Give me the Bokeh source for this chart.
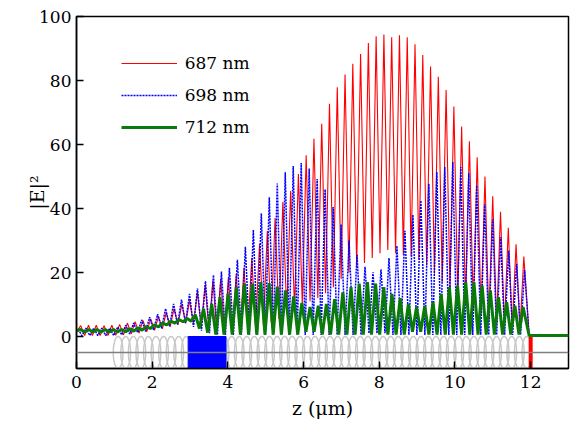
import numpy as np
from bokeh.plotting import figure
from bokeh.models import FixedTicker, Span, Legend, LegendItem
from bokeh.embed import file_html
from bokeh.resources import INLINE

# ---------------- data ----------------
x_ticks = [0, 2, 4, 6, 8, 10, 12]
y_ticks = [0, 20, 40, 60, 80, 100]
series_names = ["687 nm", "698 nm", "712 nm"]

# standing-wave extrema (peak values, trough values between peaks)
red_first_peak, red_period = 0.112, 0.2054
red_start = 1.5
red_peaks = [3.4, 3.5, 3.5, 3.4, 3.5, 3.8, 4.2, 4.6, 5.0, 5.5, 6.3, 7.5, 8.7, 10.0, 11.2,
             14.0, 16.0, 17.5, 18.0, 18.5, 19.5, 21.5, 24.5, 29.0, 33.0, 37.0, 42.0, 45.5,
             50.8, 56.6, 61.8, 66.5, 72.7, 77.9, 81.9, 85.2, 88.3, 91.7, 93.8, 94.4, 93.5,
             94.1, 93.5, 91.3, 88.0, 84.4, 81.2, 77.0, 71.9, 65.6, 61.0, 56.0, 50.0, 43.8,
             39.0, 34.0, 28.8, 25.0]
red_troughs = [0.3, 0.3, 0.3, 0.3, 0.4, 0.5, 0.8, 1.1, 1.5, 1.9, 2.4, 3.0, 3.6, 4.2,
               4.0, 3.0, 2.2, 1.8, 1.5, 1.5, 1.8, 2.2, 2.8, 3.5, 4.5, 5.5, 7.0, 8.5, 10.0,
               11.0, 12.0, 13.5, 15.4, 18.0, 20.0, 21.5, 23.0, 24.5, 26.0, 27.0, 26.0, 25.5,
               25.0, 24.0, 22.2, 19.6, 17.0, 14.5, 12.0, 10.0, 8.0, 6.5, 5.0, 4.0, 3.0, 2.5, 2.0]

blue_first_peak, blue_period = 0.035, 0.2108
blue_start = 1.8
blue_peaks = [2.4, 2.6, 2.6, 2.6, 2.6, 3.0, 3.5, 4.2, 5.2, 6.0, 7.0, 8.7, 10.2, 11.5, 13.3,
              15.0, 17.3, 19.2, 20.3, 21.5, 24.0, 28.0, 33.3, 38.5, 43.5, 47.8, 51.3, 53.3,
              54.2, 52.5, 49.2, 46.0, 40.5, 35.0, 30.0, 25.5, 21.8, 20.1, 21.0, 24.5, 28.3,
              33.0, 38.0, 42.5, 47.7, 51.4, 53.0, 54.5, 53.0, 51.0, 47.2, 41.3, 36.6, 31.0,
              26.9, 22.7, 20.8]
blue_troughs = [0.3, 0.3, 0.3, 0.3, 0.3, 0.5, 0.8, 1.2, 1.6, 2.0, 2.6, 3.2, 3.8, 4.2,
                3.0, 1.8, 1.0, 0.5, 0.5, 0.5, 0.5, 0.5, 0.5, 0.5, 0.5, 0.5, 0.5, 0.5, 0.5,
                0.5, 0.5, 0.5, 0.5, 0.5, 0.5, 0.5, 1.0, 1.0, 1.0, 0.5, 0.5, 0.5, 0.5, 0.5,
                0.5, 0.5, 0.5, 0.5, 0.5, 0.5, 0.5, 0.5, 0.5, 0.5, 0.5, 0.5]

green_first_peak, green_period = 0.109, 0.2165
green_start = 1.8
green_peaks = [2.2, 2.2, 2.2, 2.2, 2.2, 2.2, 2.4, 2.7, 3.1, 3.6, 4.2, 4.8, 5.3, 5.6, 6.8,
               8.7, 10.2, 12.3, 13.4, 15.4, 16.5, 16.5, 17.0, 16.7, 15.6, 14.4, 12.5, 10.5,
               9.2, 9.6, 10.2, 11.7, 13.8, 15.4, 16.5, 17.0, 16.5, 15.4, 13.3, 12.0, 10.2,
               9.2, 9.6, 10.7, 13.3, 15.4, 15.9, 17.0, 17.0, 15.9, 14.4, 12.3, 10.7, 9.6, 9.2]
green_troughs = [1.4, 1.4, 1.4, 1.4, 1.4, 1.5, 1.7, 2.0, 2.5, 3.0, 3.6, 4.2, 4.6, 4.8,
                 2.5, 1.2, 0.6, 0.6, 0.6, 0.6, 0.6, 0.6, 0.6, 0.6, 0.6, 0.6, 0.6, 1.5, 1.5,
                 0.6, 0.6, 0.6, 0.6, 0.6, 0.6, 0.6, 0.6, 0.6, 0.6, 0.6, 1.5, 1.5, 0.6, 0.6,
                 0.6, 0.6, 0.6, 0.6, 0.6, 0.6, 0.6, 0.6, 0.6, 0.6]

# device layout (µm) and output level
device_end = 11.96
window_end = 13.0
output_level = 0.3
grating_start, grating_end, grating_cell = 1.0, 12.0, 0.2
phase_section = (2.95, 3.95)
structure_top, structure_bottom, structure_mid = 0.0, -10.0, -5.0
facet_z = 12.0


def build(first, period, peaks, troughs, start):
    zp = first + period * np.arange(len(peaks))
    xs, ys = [0.0], [start]
    for i, (zz, v) in enumerate(zip(zp, peaks)):
        xs.append(zz)
        ys.append(v)
        if i < len(troughs):
            xs.append(zz + period / 2)
            ys.append(troughs[i])
    xs += [device_end, window_end]
    ys += [output_level, output_level]
    return xs, ys


FONT = "DejaVu Serif"

p = figure(width=570, height=426, x_range=(0, 13), y_range=(-10, 100),
           output_backend="svg", toolbar_location=None,
           min_border_left=76, min_border_right=2, min_border_top=16, min_border_bottom=58)
p.xgrid.visible = False
p.ygrid.visible = False
p.outline_line_color = "black"
p.outline_line_width = 1.5
p.outline_line_alpha = 1.0

# structure schematic
p.add_layout(Span(location=structure_mid, dimension="width", line_color="#808080", line_width=1.5))
cells = np.arange(grating_start + grating_cell / 2, grating_end, grating_cell)
p.ellipse(x=cells, y=structure_mid, width=grating_cell * 1.3,
          height=structure_top - structure_bottom, fill_alpha=0,
          line_color="#c8c8c8", line_width=1.5)
p.quad(left=[phase_section[0]], right=[phase_section[1]], bottom=[structure_bottom],
       top=[structure_top], fill_color="#0000ff", line_color="#0000ff")
p.segment(x0=[facet_z], x1=[facet_z], y0=[structure_bottom], y1=[structure_top],
          line_color="#ff0000", line_width=4)

rx, ry = build(red_first_peak, red_period, red_peaks, red_troughs, red_start)
bx, by = build(blue_first_peak, blue_period, blue_peaks, blue_troughs, blue_start)
gx, gy = build(green_first_peak, green_period, green_peaks, green_troughs, green_start)

r1 = p.line(rx, ry, line_color="#ff0000", line_width=1.1)
r2 = p.line(bx, by, line_color="#0000ff", line_width=1.5, line_dash="2 1")
r3 = p.line(gx, gy, line_color="#0a7a0a", line_width=3)

legend = Legend(items=[LegendItem(label=series_names[0], renderers=[r1]),
                       LegendItem(label=series_names[1], renderers=[r2]),
                       LegendItem(label=series_names[2], renderers=[r3])],
                location=(44.7, 224.7))
legend.border_line_alpha = 0
legend.background_fill_alpha = 0
legend.glyph_width = 56
legend.glyph_height = 32
legend.label_height = 32
legend.label_standoff = 8
legend.spacing = 0
legend.padding = 0
legend.margin = 0
legend.label_text_font = FONT
legend.label_text_font_size = "17px"
legend.label_text_color = "black"
p.add_layout(legend)

for ax in (p.xaxis[0], p.yaxis[0]):
    ax.major_tick_in = 7
    ax.major_tick_out = 0
    ax.minor_tick_line_color = None
    ax.axis_line_width = 1.5
    ax.axis_line_color = "black"
    ax.major_tick_line_width = 1.5
    ax.major_tick_line_color = "black"
    ax.major_label_text_font = FONT
    ax.major_label_text_font_size = "17px"
    ax.major_label_text_color = "black"
    ax.axis_label_text_font = FONT
    ax.axis_label_text_font_size = "19px"
    ax.axis_label_text_font_style = "normal"
    ax.axis_label_text_color = "black"

p.xaxis.ticker = FixedTicker(ticks=x_ticks)
p.yaxis.ticker = FixedTicker(ticks=y_ticks)
p.xaxis.axis_label = "z (μm)"
p.yaxis.axis_label = "|E|²"
p.xaxis.major_label_standoff = 7
p.xaxis.axis_label_standoff = 6
p.yaxis.major_label_standoff = 5
p.yaxis.axis_label_standoff = -12

open("out.html", "w").write(file_html(p, INLINE))
